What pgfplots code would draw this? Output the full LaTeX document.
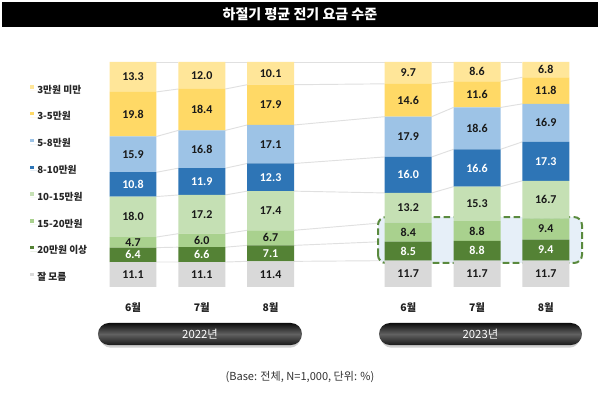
\documentclass[border=0pt]{standalone}
\usepackage{pgfplots}
\usepackage{pgfplotstable}
\pgfplotsset{compat=1.18}
\usepackage{fontspec}
\setmainfont{Noto Sans CJK KR}
\newfontfamily\numfont{Carlito}
\definecolor{cA}{HTML}{FFE699}
\definecolor{cB}{HTML}{FFD966}
\definecolor{cC}{HTML}{9DC3E6}
\definecolor{cD}{HTML}{2E75B6}
\definecolor{cE}{HTML}{C5E0B4}
\definecolor{cF}{HTML}{A9D18E}
\definecolor{cG}{HTML}{548235}
\definecolor{cH}{HTML}{D9D9D9}
\definecolor{boxfill}{HTML}{E6EFF8}
\definecolor{boxline}{HTML}{5A8A3E}
\definecolor{sline}{HTML}{E0E0E0}
% columns: h=잘 모름, g=20만원 이상, f=15-20, e=10-15, d=8-10, c=5-8, b=3-5, a=3만원 미만
\pgfplotstableread{
x h    g   f   e    d    c    b    a
0 11.1 6.4 4.7 18.0 10.8 15.9 19.8 13.3
1 11.1 6.6 6.0 17.2 11.9 16.8 18.4 12.0
2 11.4 7.1 6.7 17.4 12.3 17.1 17.9 10.1
4 11.7 8.5 8.4 13.2 16.0 17.9 14.6 9.7
5 11.7 8.8 8.8 15.3 16.6 18.6 11.6 8.6
6 11.7 9.4 9.4 16.7 17.3 16.9 11.8 6.8
}\data
% value labels at the middle of each segment (dark text)
\pgfplotstableread{
x y lab
0 5.55 11.1
0 19.85 4.7
0 31.2 18.0
0 58.95 15.9
0 76.8 19.8
0 93.35 13.3
1 5.55 11.1
1 20.7 6.0
1 32.3 17.2
1 61.2 16.8
1 78.8 18.4
1 94.0 12.0
2 5.7 11.4
2 21.85 6.7
2 33.9 17.4
2 63.45 17.1
2 80.95 17.9
2 94.95 10.1
4 5.85 11.7
4 24.4 8.4
4 35.2 13.2
4 66.75 17.9
4 83.0 14.6
4 95.15 9.7
5 5.85 11.7
5 24.9 8.8
5 36.95 15.3
5 70.5 18.6
5 85.6 11.6
5 95.7 8.6
6 5.85 11.7
6 25.8 9.4
6 38.85 16.7
6 72.95 16.9
6 87.3 11.8
6 96.6 6.8
}\labdark
% value labels (white text)
\pgfplotstableread{
x y lab
0 14.3 6.4
0 45.6 10.8
1 14.4 6.6
1 46.85 11.9
2 14.95 7.1
2 48.75 12.3
4 15.95 8.5
4 49.8 16.0
5 16.1 8.8
5 52.9 16.6
6 16.4 9.4
6 55.85 17.3
}\labwhite
\pgfplotsset{
  base/.style={
    scale only axis, width=450pt, height=297pt,
    xmin=-1.9331, xmax=6.7878, ymin=-48.444, ymax=127.556,
    hide axis, clip=false,
  },
  sl/.style={color=sline, line width=0.7pt, mark=none, unbounded coords=jump},
  labplot/.style={draw=none, mark=*, mark size=0pt, mark options={draw=none, fill=none},
    nodes near coords, point meta=explicit symbolic, nodes near coords align=center,
    every node near coord/.append style={anchor=center, inner sep=0pt, font=\numfont\bfseries\fontsize{9}{10}\selectfont, text=#1}},
}
\tikzset{mlab/.style={font=\bfseries\fontsize{7.8}{9}\selectfont, text=black!88}}
\begin{document}
\begin{tikzpicture}
\begin{axis}[base]
\fill[white] (rel axis cs:0,0) rectangle (rel axis cs:1,1);
% series lines between bars (cumulative boundaries)
\addplot[sl] coordinates {(0.3415,11.1)(0.6585,11.1)(1,nan)(1.3415,11.1)(1.6585,11.4)(2,nan)(2.3415,11.4)(3.6585,11.7)(4,nan)(4.3415,11.7)(4.6585,11.7)(5,nan)(5.3415,11.7)(5.6585,11.7)};
\addplot[sl] coordinates {(0.3415,17.5)(0.6585,17.7)(1,nan)(1.3415,17.7)(1.6585,18.5)(2,nan)(2.3415,18.5)(3.6585,20.2)(4,nan)(4.3415,20.2)(4.6585,20.5)(5,nan)(5.3415,20.5)(5.6585,21.1)};
\addplot[sl] coordinates {(0.3415,22.2)(0.6585,23.7)(1,nan)(1.3415,23.7)(1.6585,25.2)(2,nan)(2.3415,25.2)(3.6585,28.6)(4,nan)(4.3415,28.6)(4.6585,29.3)(5,nan)(5.3415,29.3)(5.6585,30.5)};
\addplot[sl] coordinates {(0.3415,40.2)(0.6585,40.9)(1,nan)(1.3415,40.9)(1.6585,42.6)(2,nan)(2.3415,42.6)(3.6585,41.8)(4,nan)(4.3415,41.8)(4.6585,44.6)(5,nan)(5.3415,44.6)(5.6585,47.2)};
\addplot[sl] coordinates {(0.3415,51.0)(0.6585,52.8)(1,nan)(1.3415,52.8)(1.6585,54.9)(2,nan)(2.3415,54.9)(3.6585,57.8)(4,nan)(4.3415,57.8)(4.6585,61.2)(5,nan)(5.3415,61.2)(5.6585,64.5)};
\addplot[sl] coordinates {(0.3415,66.9)(0.6585,69.6)(1,nan)(1.3415,69.6)(1.6585,72.0)(2,nan)(2.3415,72.0)(3.6585,75.7)(4,nan)(4.3415,75.7)(4.6585,79.8)(5,nan)(5.3415,79.8)(5.6585,81.4)};
\addplot[sl] coordinates {(0.3415,86.7)(0.6585,88.0)(1,nan)(1.3415,88.0)(1.6585,89.9)(2,nan)(2.3415,89.9)(3.6585,90.3)(4,nan)(4.3415,90.3)(4.6585,91.4)(5,nan)(5.3415,91.4)(5.6585,93.2)};
\addplot[sl] coordinates {(0.3415,100)(0.6585,100)(1,nan)(1.3415,100)(1.6585,100)(2,nan)(2.3415,100)(3.6585,100)(4,nan)(4.3415,100)(4.6585,100)(5,nan)(5.3415,100)(5.6585,100)};
% highlight box fill
\fill[boxfill, rounded corners=6pt] (axis cs:3.561,10.67) rectangle (axis cs:6.526,31.1);
% title bar
\fill[black] (axis cs:-1.904,126.67) rectangle (axis cs:6.759,115.56);
\node[text=white, font=\bfseries\fontsize{10.5}{12}\selectfont] at (axis cs:2.427,121.1) {하절기 평균 전기 요금 수준};
% month labels
\node[mlab] at (axis cs:0,-9.33) {6월};
\node[mlab] at (axis cs:1,-9.33) {7월};
\node[mlab] at (axis cs:2,-9.33) {8월};
\node[mlab] at (axis cs:4,-9.33) {6월};
\node[mlab] at (axis cs:5,-9.33) {7월};
\node[mlab] at (axis cs:6,-9.33) {8월};
% year pills
\fill[black!30, opacity=0.6, rounded corners=8.25pt] (axis cs:-0.48,-17.2) rectangle (axis cs:2.44,-27.0);
\shade[top color=black!95, bottom color=black!90, middle color=black!62, rounded corners=8.25pt] (axis cs:-0.509,-16.0) rectangle (axis cs:2.456,-25.8);
\node[text=white, font=\fontsize{8.5}{10}\selectfont] at (axis cs:0.974,-20.9) {2022년};
\fill[black!30, opacity=0.6, rounded corners=8.25pt] (axis cs:3.60,-17.2) rectangle (axis cs:6.50,-27.0);
\shade[top color=black!95, bottom color=black!90, middle color=black!62, rounded corners=8.25pt] (axis cs:3.576,-16.0) rectangle (axis cs:6.526,-25.8);
\node[text=white, font=\fontsize{8.5}{10}\selectfont] at (axis cs:5.05,-20.9) {2023년};
% footnote
\node[text=black!80, font=\fontsize{8.3}{10}\selectfont] at (axis cs:2.427,-40.0) {(Base: 전체, N=1,000, 단위: \%)};
\end{axis}
\begin{axis}[base, ybar stacked, bar width=0.683,
  legend style={draw=none, fill=none, at={(axis cs:-1.497,45.8)}, anchor=west, inner sep=0pt, row sep=12.6pt,
    nodes={inner sep=0pt, text height=5.5pt, text depth=1.5pt, font=\bfseries\fontsize{7.3}{8}\selectfont, text=black!85}},
  legend cell align=left, reverse legend,
  legend image code/.code={\fill[#1, draw=none] (0pt,1.35pt) rectangle (2.7pt,4pt); \path (0pt,0pt) -- (5.25pt,0pt);},
]
\addplot[fill=cH, draw=none] table[x=x, y=h] {\data};
\addplot[fill=cG, draw=none] table[x=x, y=g] {\data};
\addplot[fill=cF, draw=none] table[x=x, y=f] {\data};
\addplot[fill=cE, draw=none] table[x=x, y=e] {\data};
\addplot[fill=cD, draw=none] table[x=x, y=d] {\data};
\addplot[fill=cC, draw=none] table[x=x, y=c] {\data};
\addplot[fill=cB, draw=none] table[x=x, y=b] {\data};
\addplot[fill=cA, draw=none] table[x=x, y=a] {\data};
\legend{잘 모름, 20만원 이상, 15-20만원, 10-15만원, 8-10만원, 5-8만원, 3-5만원, 3만원 미만}
\draw[boxline, line width=1.5pt, dash pattern=on 5pt off 2.5pt, rounded corners=6pt] (axis cs:3.561,10.67) rectangle (axis cs:6.526,31.1);
\end{axis}
\begin{axis}[base]
\addplot[labplot=black!90] table[x=x, y=y, meta=lab] {\labdark};
\addplot[labplot=white] table[x=x, y=y, meta=lab] {\labwhite};
\end{axis}
\end{tikzpicture}
\end{document}
